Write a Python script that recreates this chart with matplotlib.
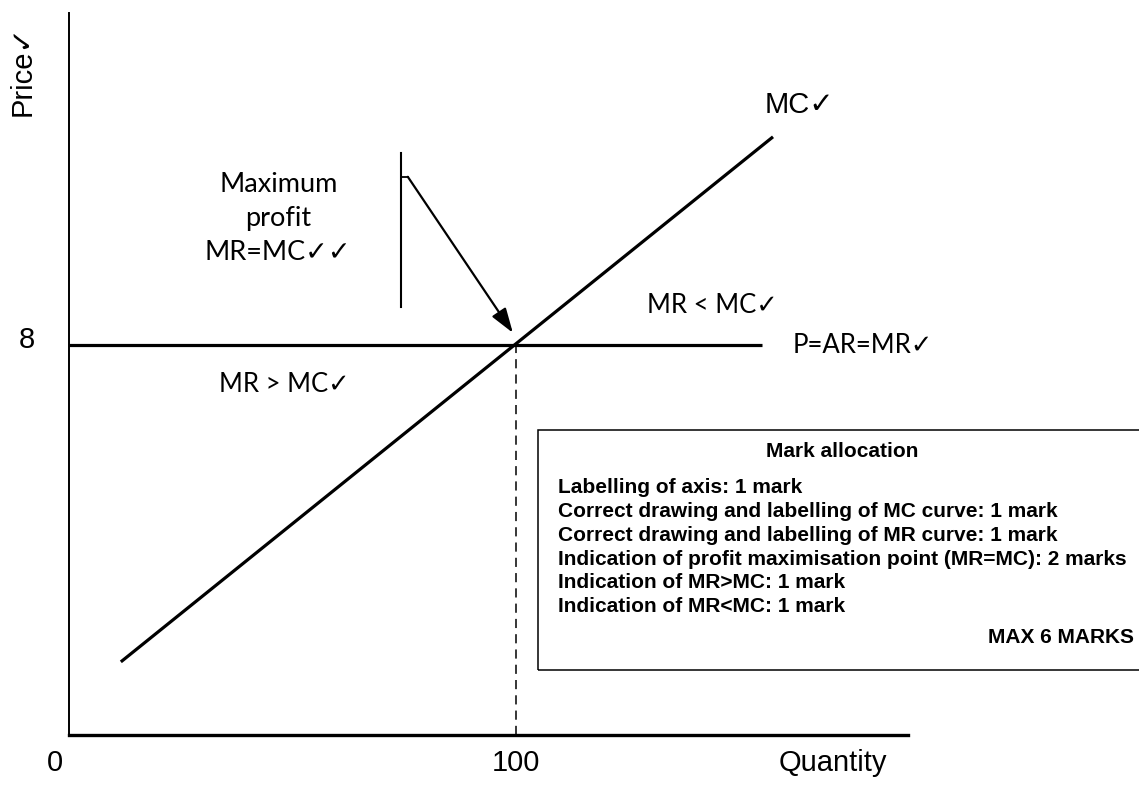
import matplotlib
matplotlib.use("Agg")
import matplotlib.pyplot as plt
from matplotlib.patches import Rectangle

# --- data (quantity, price) ---
mc_q = [11.6, 157.5]
mc_p = [1.50, 12.27]
mr_q = [0, 155.0]
mr_p = [8, 8]
eq_q = 100
eq_p = 8

mark_lines = [
    "Labelling of axis: 1 mark",
    "Correct drawing and labelling of MC curve: 1 mark",
    "Correct drawing and labelling of MR curve: 1 mark",
    "Indication of profit maximisation point (MR=MC): 2 marks",
    "Indication of MR>MC: 1 mark",
    "Indication of MR<MC: 1 mark",
]

ARIAL = ["Liberation Sans", "DejaVu Sans"]
CALIBRI = ["Lato", "DejaVu Sans"]

fig = plt.figure(figsize=(11.39, 7.85), dpi=100)
W, H = 1139, 785
ax = fig.add_axes([69 / W, (H - 735) / H, (908 - 69) / W, (735 - 13) / H])
ax.set_xlim(0, 187.7)
ax.set_ylim(0, 14.81)
ax.set_xticks([])
ax.set_yticks([])
for s in ["top", "right"]:
    ax.spines[s].set_visible(False)
ax.spines["left"].set_linewidth(1.4)
ax.spines["bottom"].set_linewidth(2.4)
ax.patch.set_visible(False)

# curves
ax.plot(mc_q, mc_p, color="black", lw=2.3, solid_capstyle="butt")
ax.plot(mr_q, mr_p, color="black", lw=2.3, solid_capstyle="butt")
ax.plot([eq_q, eq_q], [0, eq_p], color="black", lw=1.1, dashes=(6, 4))

# bracket + arrow to the equilibrium
ax.plot([74.3, 74.3], [8.78, 11.94], color="black", lw=1.5)
ax.plot([74.3, 75.8], [11.45, 11.45], color="black", lw=1.3)
ax.annotate("", xy=(99.3, 8.25), xytext=(75.8, 11.45),
            arrowprops=dict(arrowstyle="-|>,head_length=1.5,head_width=0.5",
                            color="black", lw=1.6, shrinkA=0, shrinkB=0))

# labels
ax.text(46.8, 10.6, "Maximum\nprofit\nMR=MC\u2713\u2713", family=CALIBRI,
        fontsize=19.5, ha="center", va="center", linespacing=1.45)
ax.text(48.1, 7.18, "MR > MC\u2713", family=CALIBRI, fontsize=18.5,
        ha="center", va="center")
ax.text(144, 8.82, "MR < MC\u2713", family=CALIBRI, fontsize=18.5,
        ha="center", va="center")
ax.text(162, 7.98, "P=AR=MR\u2713", family=CALIBRI, fontsize=18.5,
        ha="left", va="center")
ax.text(155.7, 12.92, "MC\u2713", family=ARIAL, fontsize=21,
        ha="left", va="center")

ax.text(-9.4, 8.1, "8", family=ARIAL, fontsize=21, ha="center", va="center")
ax.text(-3.1, -0.57, "0", family=ARIAL, fontsize=21, ha="center", va="center")
ax.text(100, -0.57, "100", family=ARIAL, fontsize=21, ha="center", va="center")
ax.text(170.9, -0.57, "Quantity", family=ARIAL, fontsize=21,
        ha="center", va="center")
ax.text(-10.3, 13.62, "Price\u2713", family=ARIAL, fontsize=21,
        ha="center", va="center", rotation=90)

# mark allocation box (runs off the right edge, as in the original)
ax.add_patch(Rectangle((104.9, 1.33), 150, 6.26 - 1.33, fill=False,
                       edgecolor="black", lw=1.1, clip_on=False))
ax.text(172.9, 5.81, "Mark allocation", family=ARIAL, fontsize=15,
        weight="bold", ha="center", va="center")
y0, dy = 5.08, 0.49
for i, line in enumerate(mark_lines):
    ax.text(109.4, y0 - i * dy, line, family=ARIAL, fontsize=15,
            weight="bold", ha="left", va="center")
ax.text(205.6, 1.99, "MAX 6 MARKS", family=ARIAL, fontsize=15,
        weight="bold", ha="left", va="center")

fig.savefig("out.png", dpi=100)
